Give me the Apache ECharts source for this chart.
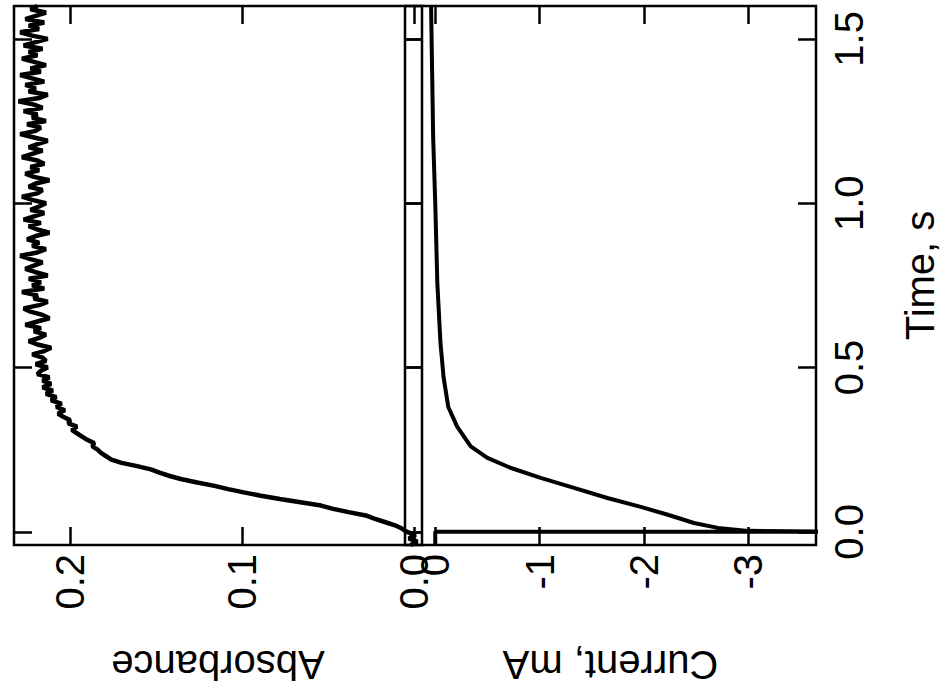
<!DOCTYPE html>
<html>
<head>
<meta charset="utf-8">
<script src="https://cdn.jsdelivr.net/npm/echarts@6/dist/echarts.min.js"></script>
<style>
  html, body { margin: 0; padding: 0; background: #fff; }
  #chart { width: 949px; height: 700px; }
</style>
</head>
<body>
<div id="chart"></div>
<script>
// absorbance trace: time (s) and absorbance
const absTime = [
  -0.04, -0.03, -0.02, -0.01, 0.00, 0.01, 0.02, 0.03, 0.04, 0.05,
  0.06, 0.07, 0.08, 0.09, 0.10, 0.11, 0.12, 0.13, 0.14, 0.15,
  0.16, 0.17, 0.18, 0.19, 0.20, 0.21, 0.22, 0.23, 0.24, 0.25,
  0.26, 0.27, 0.28, 0.29, 0.30, 0.31, 0.32, 0.33, 0.34, 0.35,
  0.36, 0.37, 0.38, 0.39, 0.40, 0.41, 0.42, 0.43, 0.44, 0.45,
  0.46, 0.47, 0.48, 0.49, 0.50, 0.51, 0.52, 0.53, 0.54, 0.55,
  0.56, 0.57, 0.58, 0.59, 0.60, 0.61, 0.62, 0.63, 0.64, 0.65,
  0.66, 0.67, 0.68, 0.69, 0.70, 0.71, 0.72, 0.73, 0.74, 0.75,
  0.76, 0.77, 0.78, 0.79, 0.80, 0.81, 0.82, 0.83, 0.84, 0.85,
  0.86, 0.87, 0.88, 0.89, 0.90, 0.91, 0.92, 0.93, 0.94, 0.95,
  0.96, 0.97, 0.98, 0.99, 1.00, 1.01, 1.02, 1.03, 1.04, 1.05,
  1.06, 1.07, 1.08, 1.09, 1.10, 1.11, 1.12, 1.13, 1.14, 1.15,
  1.16, 1.17, 1.18, 1.19, 1.20, 1.21, 1.22, 1.23, 1.24, 1.25,
  1.26, 1.27, 1.28, 1.29, 1.30, 1.31, 1.32, 1.33, 1.34, 1.35,
  1.36, 1.37, 1.38, 1.39, 1.40, 1.41, 1.42, 1.43, 1.44, 1.45,
  1.46, 1.47, 1.48, 1.49, 1.50, 1.51, 1.52, 1.53, 1.54, 1.55,
  1.56, 1.57, 1.58, 1.59, 1.60
];
const absValue = [
  0.002, -0.002, 0.003, -0.001, 0.004, 0.007, 0.011, 0.017, 0.023, 0.028,
  0.038, 0.047, 0.054, 0.066, 0.078, 0.089, 0.099, 0.108, 0.116, 0.126,
  0.135, 0.142, 0.148, 0.153, 0.161, 0.170, 0.176, 0.179, 0.182, 0.184,
  0.187, 0.186, 0.190, 0.193, 0.196, 0.199, 0.196, 0.201, 0.200, 0.204,
  0.207, 0.203, 0.208, 0.205, 0.211, 0.208, 0.214, 0.210, 0.216, 0.211,
  0.216, 0.212, 0.219, 0.217, 0.213, 0.220, 0.214, 0.216, 0.222, 0.215,
  0.211, 0.219, 0.224, 0.218, 0.214, 0.221, 0.217, 0.226, 0.219, 0.212,
  0.216, 0.223, 0.227, 0.218, 0.213, 0.221, 0.219, 0.228, 0.215, 0.222,
  0.217, 0.224, 0.213, 0.220, 0.226, 0.221, 0.216, 0.223, 0.229, 0.219,
  0.214, 0.222, 0.218, 0.225, 0.220, 0.212, 0.219, 0.224, 0.217, 0.227,
  0.221, 0.215, 0.223, 0.218, 0.214, 0.222, 0.228, 0.219, 0.216, 0.224,
  0.220, 0.212, 0.221, 0.226, 0.218, 0.223, 0.215, 0.219, 0.228, 0.222,
  0.216, 0.224, 0.219, 0.213, 0.221, 0.229, 0.220, 0.217, 0.225, 0.214,
  0.222, 0.219, 0.227, 0.216, 0.221, 0.230, 0.218, 0.213, 0.224, 0.220,
  0.226, 0.215, 0.222, 0.229, 0.217, 0.223, 0.214, 0.221, 0.228, 0.219,
  0.224, 0.216, 0.227, 0.220, 0.213, 0.222, 0.229, 0.218, 0.224, 0.215,
  0.226, 0.220, 0.214, 0.223, 0.219
];

// current trace: time (s) and current (mA); the t = 0 spike runs off scale
const curTime = [
  -0.04, 0.000, 0.000, 0.003, 0.012, 0.027, 0.052, 0.076, 0.103, 0.134,
  0.164, 0.195, 0.225, 0.260, 0.320, 0.380, 0.470, 0.575, 0.757, 1.000,
  1.200, 1.400, 1.600
];
const curValue = [
  0.00, 0.00, -4.00, -3.00, -2.71, -2.48, -2.23, -1.97, -1.65, -1.33,
  -1.01, -0.72, -0.50, -0.34, -0.21, -0.125, -0.08, -0.05, -0.02, 0.00,
  0.02, 0.03, 0.04
];

const timeTicks = [0, 0.5, 1.0, 1.5];
const absTicks = [0, 0.1, 0.2];
const curTicks = [0, -1, -2, -3];

const FONT = "'Liberation Sans', Arial, sans-serif";
const black = '#000';

const tickStyle = {show: true, inside: true, length: 18, lineStyle: {color: black, width: 2.5}};
const labelStyle = {color: black, fontFamily: FONT, fontSize: 40, rotate: 90, margin: 13};

function timeAxis(gridIndex, position, showLabel) {
  return {
    type: 'value', gridIndex: gridIndex, position: position,
    min: -0.04, max: 1.60,
    axisLine: {show: false, onZero: false},
    splitLine: {show: false},
    axisTick: Object.assign({customValues: timeTicks}, tickStyle),
    axisLabel: Object.assign({
      show: showLabel, customValues: timeTicks,
      formatter: v => v.toFixed(1)
    }, labelStyle)
  };
}

function valueAxis(gridIndex, position, min, max, ticks, fmt, showLabel) {
  return {
    type: 'value', gridIndex: gridIndex, position: position, inverse: true,
    min: min, max: max,
    axisLine: {show: false, onZero: false},
    splitLine: {show: false},
    axisTick: Object.assign({customValues: ticks}, tickStyle),
    axisLabel: Object.assign({}, labelStyle, {show: showLabel, customValues: ticks, formatter: fmt, margin: 9})
  };
}

const chart = echarts.init(document.getElementById('chart'), null, {renderer: 'svg'});

const absFmt = v => v.toFixed(1);
const curFmt = v => (v === 0 ? '0' : String(v));

const xAbsBottom = valueAxis(0, 'bottom', -0.0047, 0.2326, absTicks, absFmt, true);
xAbsBottom.name = 'Absorbance';
xAbsBottom.nameLocation = 'middle';
xAbsBottom.nameRotate = 180;
xAbsBottom.nameGap = 100;
xAbsBottom.nameTextStyle = {color: black, fontFamily: FONT, fontSize: 40};

const xCurBottom = valueAxis(1, 'bottom', -3.65, 0.29, curTicks, curFmt, true);
xCurBottom.name = 'Current, mA';
xCurBottom.nameLocation = 'middle';
xCurBottom.nameRotate = 180;
xCurBottom.nameGap = 100;
xCurBottom.nameTextStyle = {color: black, fontFamily: FONT, fontSize: 40};

const yTimeRight = timeAxis(1, 'right', true);
yTimeRight.name = 'Time, s';
yTimeRight.nameLocation = 'middle';
yTimeRight.nameRotate = 90;
yTimeRight.nameGap = 84;
yTimeRight.nameTextStyle = {color: black, fontFamily: FONT, fontSize: 40};

const gridStyle = {show: true, borderColor: black, borderWidth: 2.5, backgroundColor: 'transparent', outerBoundsMode: 'none', containLabel: false};

chart.setOption({
  animation: false,
  backgroundColor: '#fff',
  grid: [
    Object.assign({left: 14, top: 6, width: 408, height: 539}, gridStyle),
    Object.assign({left: 405, top: 6, width: 411, height: 539}, gridStyle)
  ],
  xAxis: [
    xAbsBottom,
    valueAxis(0, 'top', -0.0047, 0.2326, absTicks, absFmt, false),
    xCurBottom,
    valueAxis(1, 'top', -3.65, 0.29, curTicks, curFmt, false)
  ],
  yAxis: [
    timeAxis(0, 'left', false),
    timeAxis(0, 'right', false),
    timeAxis(1, 'left', false),
    yTimeRight
  ],
  series: [
    {
      name: 'Absorbance', type: 'line', xAxisIndex: 0, yAxisIndex: 0,
      data: absTime.map((t, i) => [absValue[i], t]),
      showSymbol: false, clip: true,
      lineStyle: {color: black, width: 4.5}
    },
    {
      name: 'Current', type: 'line', xAxisIndex: 2, yAxisIndex: 3,
      data: curTime.map((t, i) => [curValue[i], t]),
      showSymbol: false, clip: true,
      lineStyle: {color: black, width: 4}
    }
  ]
});
</script>
</body>
</html>
